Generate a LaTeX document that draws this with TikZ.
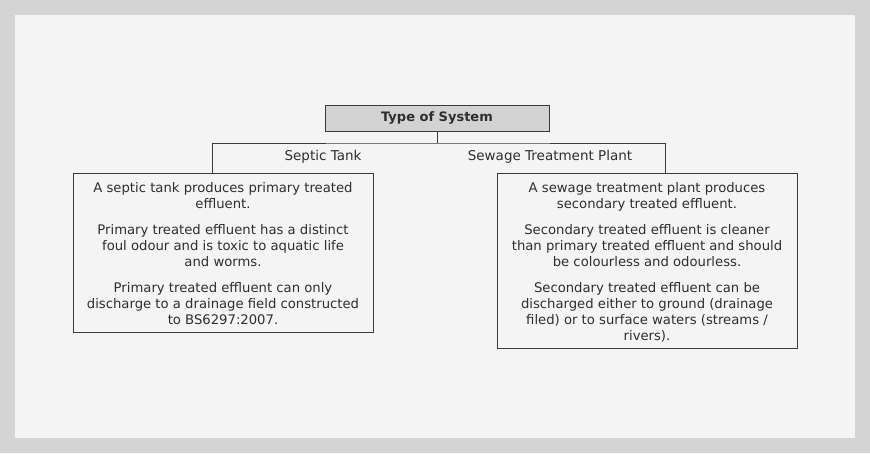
\documentclass[tikz,border=0pt]{standalone}
\usepackage{fontspec}
\setmainfont{DejaVu Sans}
\usepackage{tikz}
\usetikzlibrary{positioning,calc}
\definecolor{Frame}{HTML}{D4D4D4}
\definecolor{Paper}{HTML}{F4F4F4}
\definecolor{Ink}{HTML}{2E2E2E}
\definecolor{Edge}{HTML}{3A3A3A}
\definecolor{Head}{HTML}{D2D2D2}
\tikzset{
  headbox/.style={draw=Edge,fill=Head,line width=1pt,minimum width=224pt,minimum height=26pt,
    font=\bfseries\fontsize{13}{15}\selectfont,text=Ink},
  infobox/.style={draw=Edge,fill=Paper,line width=1pt,anchor=north,inner sep=0pt,
    font=\fontsize{13.2}{16.3}\selectfont,text=Ink},
  branchlabel/.style={font=\fontsize{13.5}{15}\selectfont,text=Ink},
  link/.style={draw=Edge,line width=0.9pt}
}
\newcommand{\boxtext}[2]{\parbox[t][#1][t]{300pt}{\centering\vspace*{9pt}#2}}
\begin{document}
\begin{tikzpicture}[x=1pt,y=-1pt]
  \fill[Frame] (0,0) rectangle (870,453);
  \fill[Paper] (15,15) rectangle (855,438);
  \useasboundingbox (0,0) rectangle (870,453);

  \node[headbox] (system) at (437,118) {Type of System};
  \coordinate (hub) at (437,143);

  \node[infobox] (septic) at (223,173) {\boxtext{159pt}{A septic tank produces primary treated\\ effluent.\\[9pt]
    Primary treated effluent has a distinct\\ foul odour and is toxic to aquatic life\\ and worms.\\[9pt]
    Primary treated effluent can only\\ discharge to a drainage field constructed\\ to BS6297:2007.}};
  \node[infobox] (plant) at (647,173) {\boxtext{175pt}{A sewage treatment plant produces\\ secondary treated effluent.\\[9pt]
    Secondary treated effluent is cleaner\\ than primary treated effluent and should\\ be colourless and odourless.\\[9pt]
    Secondary treated effluent can be\\ discharged either to ground (drainage\\ filed) or to surface waters (streams /\\ rivers).}};

  \node[branchlabel] (septiclabel) at (323,157) {Septic Tank};
  \node[branchlabel] (plantlabel) at (550,157) {Sewage Treatment Plant};

  \draw[link] (system.south) -- (hub);
  \draw[link] ([xshift=-11pt]septic.north) |- (hub) -| ([xshift=18pt]plant.north);
\end{tikzpicture}
\end{document}
